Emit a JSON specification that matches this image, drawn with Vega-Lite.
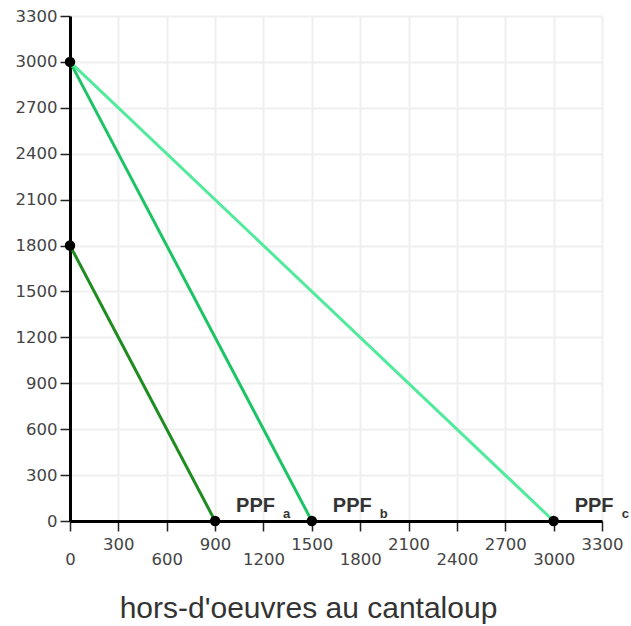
{
  "$schema": "https://vega.github.io/schema/vega-lite/v6.json",
  "width": 532,
  "height": 505,
  "autosize": "none",
  "padding": {"left": 70, "top": 16, "right": 29, "bottom": 105},
  "background": "white",
  "config": {
    "view": {"stroke": null},
    "axis": {
      "domainColor": "#000000",
      "domainWidth": 3,
      "tickColor": "#222222",
      "tickWidth": 1.5,
      "tickSize": 10,
      "gridColor": "#efefef",
      "gridWidth": 2,
      "labelFont": "DejaVu Sans",
      "labelFontSize": 16.5,
      "labelColor": "#444444",
      "format": "d"
    }
  },
  "datasets": {
    "lines": [
      {"series": "a", "x": 0, "y": 1800},
      {"series": "a", "x": 900, "y": 0},
      {"series": "b", "x": 0, "y": 3000},
      {"series": "b", "x": 1500, "y": 0},
      {"series": "c", "x": 0, "y": 3000},
      {"series": "c", "x": 3000, "y": 0}
    ],
    "points": [
      {"x": 0, "y": 3000},
      {"x": 0, "y": 1800},
      {"x": 900, "y": 0},
      {"x": 1500, "y": 0},
      {"x": 3000, "y": 0}
    ],
    "labels": [
      {"x": 900, "y": 0, "label": "PPF", "sub": "a"},
      {"x": 1500, "y": 0, "label": "PPF", "sub": "b"},
      {"x": 3000, "y": 0, "label": "PPF", "sub": "c"}
    ]
  },
  "layer": [
    {
      "data": {"name": "lines"},
      "mark": {"type": "line", "strokeWidth": 3},
      "encoding": {
        "x": {
          "field": "x", "type": "quantitative",
          "scale": {"domain": [0, 3300], "nice": false, "zero": false},
          "axis": {
            "values": [0, 300, 600, 900, 1200, 1500, 1800, 2100, 2400, 2700, 3000, 3300],
            "format": "d",
            "labelExpr": "datum.value % 600 == 0 ? ['', datum.label] : datum.label",
            "labelLineHeight": 15,
            "labelPadding": 5,
            "labelFlush": false,
            "labelOverlap": false,
            "title": "hors-d'oeuvres au cantaloup",
            "titleFont": "Liberation Sans",
            "titleFontSize": 30,
            "titleFontWeight": "normal",
            "titleColor": "#333333",
            "titleX": 238,
            "titleY": 96,
            "titleAlign": "center",
            "titleBaseline": "alphabetic"
          }
        },
        "y": {
          "field": "y", "type": "quantitative",
          "scale": {"domain": [0, 3300], "nice": false, "zero": false},
          "axis": {
            "values": [0, 300, 600, 900, 1200, 1500, 1800, 2100, 2400, 2700, 3000, 3300],
            "format": "d",
            "labelPadding": 3,
            "labelFlush": false,
            "labelOverlap": false,
            "title": null
          }
        },
        "color": {
          "field": "series", "type": "nominal",
          "scale": {"domain": ["a", "b", "c"], "range": ["#1f8c1f", "#1dc465", "#52ea9c"]},
          "legend": null
        }
      }
    },
    {
      "data": {"name": "points"},
      "mark": {"type": "circle", "size": 110, "color": "#000000", "opacity": 1},
      "encoding": {
        "x": {"field": "x", "type": "quantitative"},
        "y": {"field": "y", "type": "quantitative"}
      }
    },
    {
      "data": {"name": "labels"},
      "mark": {"type": "text", "align": "left", "baseline": "alphabetic", "dx": 21, "dy": -9, "font": "Liberation Sans", "fontSize": 20, "fontWeight": "bold", "color": "#333333"},
      "encoding": {
        "x": {"field": "x", "type": "quantitative"},
        "y": {"field": "y", "type": "quantitative"},
        "text": {"field": "label"}
      }
    },
    {
      "data": {"name": "labels"},
      "mark": {"type": "text", "align": "left", "baseline": "alphabetic", "dx": 68, "dy": -3, "font": "Liberation Sans", "fontSize": 13, "fontWeight": "bold", "color": "#333333"},
      "encoding": {
        "x": {"field": "x", "type": "quantitative"},
        "y": {"field": "y", "type": "quantitative"},
        "text": {"field": "sub"}
      }
    }
  ]
}
